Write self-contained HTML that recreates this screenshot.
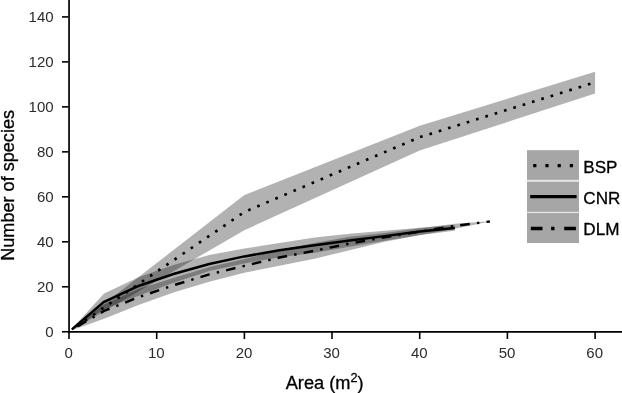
<!DOCTYPE html>
<html lang="en"><head><meta charset="utf-8"><title>Species-area curves</title>
<style>html,body{margin:0;padding:0;background:#fff}body{width:622px;height:393px;overflow:hidden}svg{display:block}text{font-family:"Liberation Sans", Arial, Helvetica, sans-serif}</style></head><body>
<svg width="622" height="393" viewBox="0 0 622 393">
<rect width="622" height="393" fill="#fff"/>
<path d="M71.89,328.74 L244.36,195.11 L419.72,125.70 L595.08,71.72 L595.08,93.47 L419.72,150.49 L244.36,230.26 L71.89,330.10Z" fill="#000" fill-opacity="0.3"/>
<path d="M71.89,328.74 L104.07,293.59 L139.14,276.91 L174.22,264.63 L209.29,255.05 L244.36,248.52 L279.43,242.88 L314.50,237.47 L349.58,233.87 L384.65,230.83 L419.72,227.78 L454.79,225.08 L454.79,230.71 L419.72,235.00 L384.65,240.63 L349.58,246.71 L314.50,252.80 L279.43,257.31 L244.36,263.39 L209.29,271.05 L174.22,282.55 L139.14,295.39 L104.07,308.91 L71.89,330.10Z" fill="#000" fill-opacity="0.3"/>
<path d="M71.89,328.97 L104.07,304.41 L139.14,288.63 L174.22,277.81 L209.29,267.00 L244.36,259.11 L279.43,249.64 L314.50,242.88 L349.58,236.80 L384.65,232.97 L419.72,228.23 L454.79,223.73 L489.86,221.36 L489.86,221.59 L454.79,228.69 L419.72,235.22 L384.65,241.76 L349.58,250.32 L314.50,258.66 L279.43,265.87 L244.36,272.63 L209.29,281.87 L174.22,292.24 L139.14,304.86 L104.07,318.83 L71.89,330.32Z" fill="#000" fill-opacity="0.3"/>
<path d="M71.89,329.42 L244.36,212.01 L419.72,137.19" fill="none" stroke="#000" stroke-width="2.65" stroke-dasharray="2.65 7.20" stroke-dashoffset="3.91"/>
<path d="M419.72,137.19 L595.08,82.31" fill="none" stroke="#000" stroke-width="2.65" stroke-dasharray="2.65 7.12" stroke-dashoffset="9.37"/>
<path d="M71.89,329.65 L104.07,310.94 L139.14,296.97 L174.22,285.03 L209.29,274.43 L244.36,265.87 L279.43,257.53 L314.50,250.77 L349.58,243.56 L384.65,237.25 L419.72,231.61 L454.79,225.98 L489.86,221.47" fill="none" stroke="#000" stroke-width="2.46" stroke-dasharray="9.64 7.23 2.41 7.22" stroke-dashoffset="19.53"/>
<path d="M71.89,329.42 L104.07,301.81 L139.14,285.70 L174.22,273.76 L209.29,264.07 L244.36,256.40 L279.43,250.32 L314.50,245.36 L349.58,240.40 L384.65,236.12 L419.72,231.39 L454.79,228.01" fill="none" stroke="#000" stroke-width="2.5" stroke-linejoin="round"/>
<g stroke="#000" fill="none">
<path d="M69.05,0 V332.75" stroke-width="1.7"/>
<path d="M68.15,331.9 H622" stroke-width="1.7"/>
<path d="M62,331.75 H68.5" stroke-width="1.6"/>
<path d="M62,286.77 H68.5" stroke-width="1.6"/>
<path d="M62,241.79 H68.5" stroke-width="1.6"/>
<path d="M62,196.82 H68.5" stroke-width="1.6"/>
<path d="M62,151.84 H68.5" stroke-width="1.6"/>
<path d="M62,106.86 H68.5" stroke-width="1.6"/>
<path d="M62,61.88 H68.5" stroke-width="1.6"/>
<path d="M62,16.90 H68.5" stroke-width="1.6"/>
<path d="M69.0,332 V339" stroke-width="1.6"/>
<path d="M156.7,332 V339" stroke-width="1.6"/>
<path d="M244.4,332 V339" stroke-width="1.6"/>
<path d="M332.0,332 V339" stroke-width="1.6"/>
<path d="M419.7,332 V339" stroke-width="1.6"/>
<path d="M507.4,332 V339" stroke-width="1.6"/>
<path d="M595.1,332 V339" stroke-width="1.6"/>
</g>
<g font-size="15" fill="#2b2b2b">
<text x="53.6" y="336.80" text-anchor="end">0</text>
<text x="53.6" y="291.82" text-anchor="end">20</text>
<text x="53.6" y="246.84" text-anchor="end">40</text>
<text x="53.6" y="201.87" text-anchor="end">60</text>
<text x="53.6" y="156.89" text-anchor="end">80</text>
<text x="53.6" y="111.91" text-anchor="end">100</text>
<text x="53.6" y="66.93" text-anchor="end">120</text>
<text x="53.6" y="21.95" text-anchor="end">140</text>
<text x="68.6" y="357.7" text-anchor="middle">0</text>
<text x="156.3" y="357.7" text-anchor="middle">10</text>
<text x="244.0" y="357.7" text-anchor="middle">20</text>
<text x="331.6" y="357.7" text-anchor="middle">30</text>
<text x="419.3" y="357.7" text-anchor="middle">40</text>
<text x="507.0" y="357.7" text-anchor="middle">50</text>
<text x="594.7" y="357.7" text-anchor="middle">60</text>
</g>
<text transform="translate(14.2,260.8) rotate(-90)" font-size="18.1" fill="#000" stroke="#000" stroke-width="0.3">Number of species</text>
<text x="285.7" y="389" font-size="18.2" fill="#000" stroke="#000" stroke-width="0.3">Area (m<tspan font-size="12.6" dy="-7.1">2</tspan><tspan dy="7.1">)</tspan></text>
<rect x="527" y="150.2" width="52" height="92.8" fill="#e6e6e6"/>
<rect x="527" y="150.2" width="52" height="29.6" fill="#a6a6a6"/>
<rect x="527" y="181.8" width="52" height="30.0" fill="#a6a6a6"/>
<rect x="527" y="213.1" width="52" height="29.9" fill="#a6a6a6"/>
<path d="M533.2,165.7 H575" stroke="#000" stroke-width="3.3" stroke-dasharray="3.2 9" fill="none"/>
<path d="M530.2,196.7 H576.6" stroke="#000" stroke-width="3.3" fill="none"/>
<path d="M530.8,228.5 H576" stroke="#000" stroke-width="3.3" stroke-dasharray="11.7 8.6 3.4 9.7" fill="none"/>
<g font-size="17.1" fill="#000" stroke="#000" stroke-width="0.3">
<text x="583.3" y="172.6">BSP</text>
<text x="583.3" y="203.6">CNR</text>
<text x="583.3" y="235.4">DLM</text>
</g>
</svg></body></html>
